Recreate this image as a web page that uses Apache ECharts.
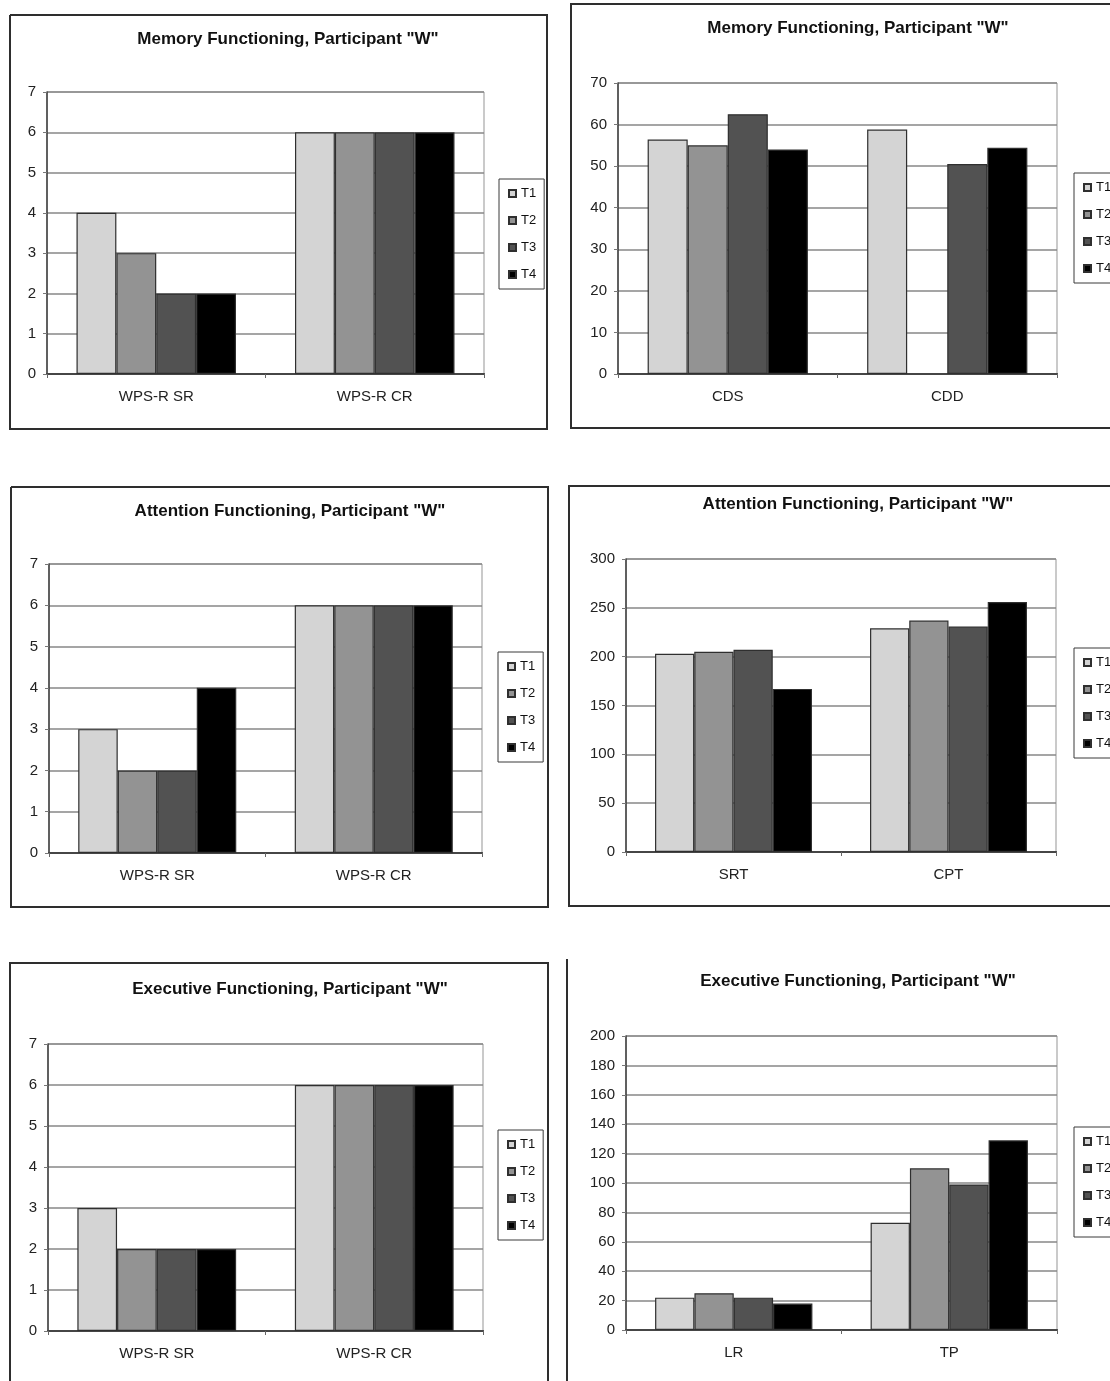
<!DOCTYPE html>
<html>
<head>
<meta charset="utf-8">
<script src="https://cdn.jsdelivr.net/npm/echarts@6/dist/echarts.min.js"></script>
<style>
  html, body { margin: 0; padding: 0; background: #ffffff; }
  #chart { width: 1110px; height: 1381px; }
</style>
</head>
<body>
<div id="chart"></div>
<script>
// Test sessions shown in every panel
const sessions = ['T1', 'T2', 'T3', 'T4'];

// Memory: WPS-R story / complex recall
const wpsCategories = ['WPS-R SR', 'WPS-R CR'];
const memoryWps = [[4, 6], [3, 6], [2, 6], [2, 6]];

// Memory: digit span scores (T2 has no CDD score)
const digitCategories = ['CDS', 'CDD'];
const memoryDigits = [[56.4, 58.8], [55.0, null], [62.5, 50.5], [54.0, 54.4]];

// Attention: WPS-R
const attentionWps = [[3, 6], [2, 6], [2, 6], [4, 6]];

// Attention: reaction time tasks
const reactionCategories = ['SRT', 'CPT'];
const attentionReaction = [[203, 229], [205, 237], [207, 231], [167, 256]];

// Executive: WPS-R
const executiveWps = [[3, 6], [2, 6], [2, 6], [2, 6]];

// Executive: LR / TP
const executiveCategories = ['LR', 'TP'];
const executiveScores = [[22, 73], [25, 110], [22, 99], [18, 129]];

// Axis ranges per panel
const axisMax = [7, 70, 7, 300, 7, 200];
const axisStep = [1, 10, 1, 50, 1, 20];

const panelTitles = [
  'Memory Functioning, Participant "W"',
  'Memory Functioning, Participant "W"',
  'Attention Functioning, Participant "W"',
  'Attention Functioning, Participant "W"',
  'Executive Functioning, Participant "W"',
  'Executive Functioning, Participant "W"'
];
const panelCategories = [wpsCategories, digitCategories, wpsCategories, reactionCategories, wpsCategories, executiveCategories];
const panelValues = [memoryWps, memoryDigits, attentionWps, attentionReaction, executiveWps, executiveScores];

// Page layout (pixels): frame edges as polyline points, plot [left, top, w, h], title [centerX, top], legend [left, top]
const layout = [
  { frame: [[10, 15], [547, 15], [547, 429], [10, 429], [10, 15]],   plot: [47, 92, 437, 282],    title: [288, 31],  legend: [499, 179] },
  { frame: [[1120, 4], [571, 4], [571, 428], [1120, 428]],           plot: [618, 83, 439, 291],   title: [858, 20],  legend: [1074, 173] },
  { frame: [[11, 487], [548, 487], [548, 907], [11, 907], [11, 487]],plot: [49, 564, 433, 289],   title: [290, 503], legend: [498, 652] },
  { frame: [[1120, 486], [569, 486], [569, 906], [1120, 906]],       plot: [626, 559, 430, 293],  title: [858, 496], legend: [1074, 648] },
  { frame: [[10, 1390], [10, 963], [548, 963], [548, 1390]],         plot: [48, 1044, 435, 287],  title: [290, 981], legend: [498, 1130] },
  { frame: [[567, 959], [567, 1390]],                                plot: [626, 1036, 431, 294], title: [858, 973], legend: [1074, 1127] }
];

const sessionColors = ['#d4d4d4', '#939393', '#525252', '#000000'];
const fontFamily = '"Liberation Sans", Arial, sans-serif';

const chart = echarts.init(document.getElementById('chart'), null, { renderer: 'canvas' });

const title = [], grid = [], xAxis = [], yAxis = [], legend = [], series = [], graphic = [];

layout.forEach((L, i) => {
  graphic.push({
    type: 'polyline',
    shape: { points: L.frame },
    style: { fill: 'none', stroke: '#2e2e2e', lineWidth: 2 },
    z: 100
  });

  title.push({
    text: panelTitles[i],
    left: L.title[0],
    top: L.title[1],
    textAlign: 'center',
    padding: 0,
    textStyle: { fontFamily, fontSize: 17, fontWeight: 'bold', color: '#111' }
  });

  grid.push({
    left: L.plot[0], top: L.plot[1], width: L.plot[2], height: L.plot[3],
    containLabel: false, outerBoundsMode: 'none',
    show: true, borderColor: '#959595', borderWidth: 1, backgroundColor: 'transparent'
  });

  xAxis.push({
    type: 'category', gridIndex: i, data: panelCategories[i], position: 'bottom',
    axisLine: { show: true, onZero: false, lineStyle: { color: '#3c3c3c', width: 2 } },
    axisTick: { show: true, length: 4, lineStyle: { color: '#666' } },
    axisLabel: { margin: 15, fontSize: 15, color: '#222', fontFamily },
    splitLine: { show: false }
  });

  yAxis.push({
    type: 'value', gridIndex: i, min: 0, max: axisMax[i], interval: axisStep[i],
    axisLine: { show: true, lineStyle: { color: '#3c3c3c', width: 1.5 } },
    axisTick: { show: true, length: 4, lineStyle: { color: '#777' } },
    axisLabel: { margin: 11, fontSize: 15, color: '#222', fontFamily },
    splitLine: { show: true, lineStyle: { color: '#878787', width: 1.6 } }
  });

  legend.push({
    data: sessions, orient: 'vertical',
    left: L.legend[0], top: L.legend[1],
    padding: [8, 8, 8, 9], itemGap: 14, itemWidth: 7, itemHeight: 7, icon: 'rect',
    borderColor: '#3a3a3a', borderWidth: 1, backgroundColor: '#ffffff',
    selectedMode: false,
    textStyle: { fontFamily, fontSize: 13, lineHeight: 13, color: '#111' }
  });

  sessions.forEach((name, s) => {
    series.push({
      type: 'bar', name,
      xAxisIndex: i, yAxisIndex: i,
      data: panelValues[i][s],
      barGap: '0%', barCategoryGap: '27%',
      itemStyle: { color: sessionColors[s], borderColor: '#2f2f2f', borderWidth: 1.2 },
      emphasis: { disabled: true }
    });
  });
});

// Darker top edge of each plot area
layout.forEach((L, i) => {
  xAxis.push({
    type: 'category', gridIndex: i, data: panelCategories[i], position: 'top',
    axisLine: { show: true, lineStyle: { color: '#4a4a4a', width: 1.5 } },
    axisTick: { show: false }, axisLabel: { show: false }, splitLine: { show: false }
  });
});

chart.setOption({
  animation: false,
  backgroundColor: '#ffffff',
  textStyle: { fontFamily },
  title, grid, xAxis, yAxis, legend, series, graphic,
  tooltip: { show: false }
});
</script>
</body>
</html>
